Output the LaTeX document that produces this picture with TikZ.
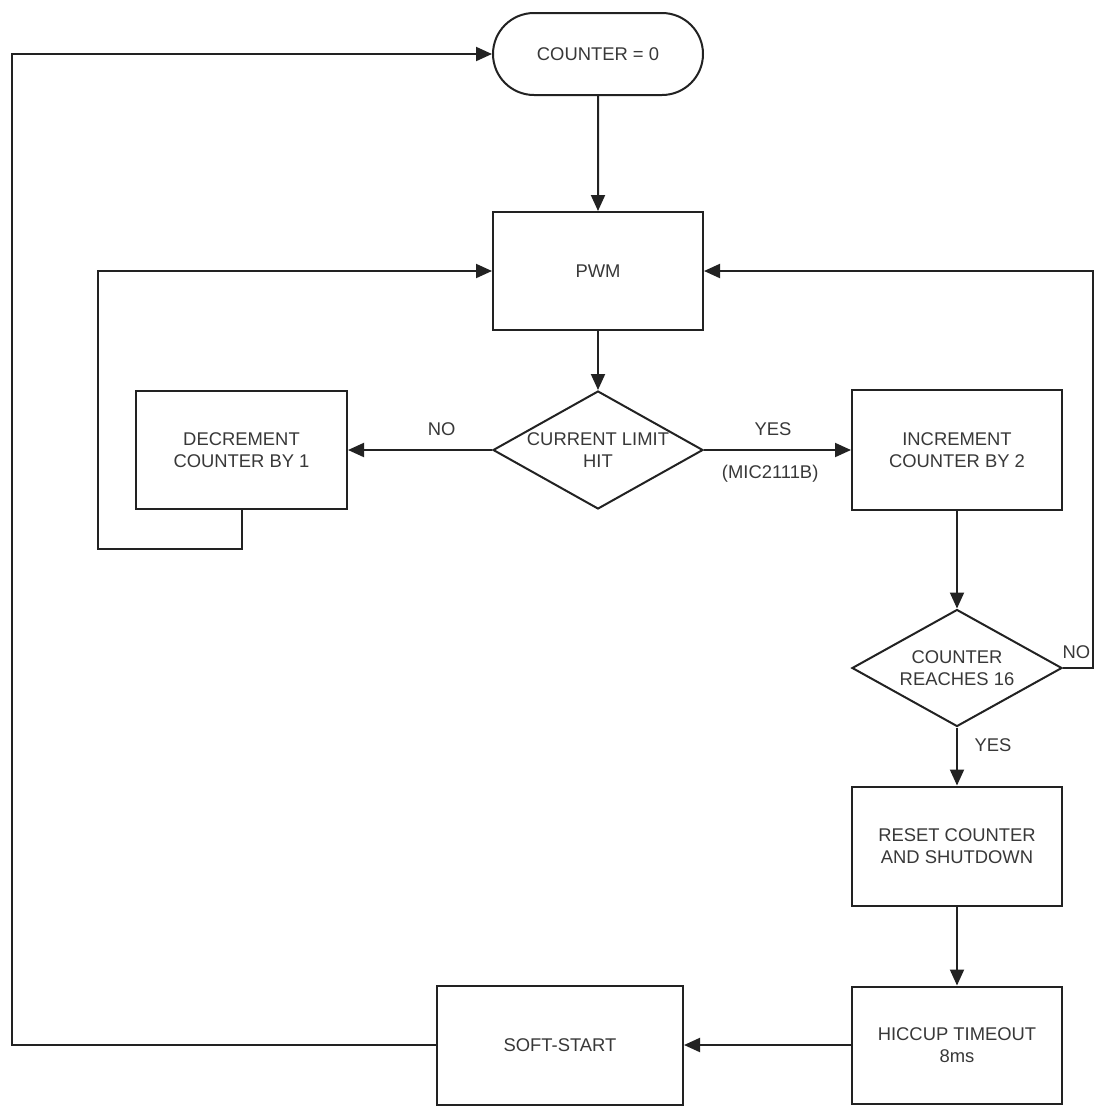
\documentclass[tikz,border=0pt]{standalone}
\usepackage{fontspec}
\setmainfont{Liberation Sans}
\usepackage{xcolor}
\usepackage{tikz}
\usetikzlibrary{arrows.meta, positioning, shapes.geometric, shapes.misc}

\definecolor{linecol}{HTML}{222222}
\definecolor{textcol}{HTML}{383838}

\begin{document}
\begin{tikzpicture}[
    x=0.5pt, y=-0.5pt,
    every node/.style={font=\fontsize{9.2}{11.3}\selectfont, text=textcol},
    stepbox/.style={draw=linecol, line width=1pt, fill=white, align=center, inner sep=0pt},
    startbox/.style={draw=linecol, line width=1pt, rounded rectangle, fill=white, minimum width=105pt, minimum height=41pt, inner sep=0pt},
    decision/.style={draw=linecol, line width=1pt, diamond, aspect=1.77, fill=white, align=center, inner sep=-1pt, minimum width=105pt, minimum height=59pt},
    arrow/.style={-{Triangle[length=8pt, width=7pt]}, line width=1pt, draw=linecol},
]
\useasboundingbox (0,0) rectangle (1096,1109);

% Main column
\node[startbox] (start) at (598,54) {COUNTER = 0};
\node[stepbox, minimum width=105pt, minimum height=59pt] (pwm) at (598,271) {PWM};
\node[decision] (limit) at (598,450) {CURRENT LIMIT\\HIT};

% Side boxes
\node[stepbox, minimum width=105.5pt, minimum height=59pt] (decr) at (241.5,450) {DECREMENT\\COUNTER BY 1};
\node[stepbox, minimum width=105pt, minimum height=60pt] (incr) at (957,450) {INCREMENT\\COUNTER BY 2};

% Right column
\node[decision, minimum height=58.5pt] (reach) at (957,668) {COUNTER\\REACHES 16};
\node[stepbox, minimum width=105pt, minimum height=59.5pt] (reset) at (957,846) {RESET COUNTER\\AND SHUTDOWN};
\node[stepbox, minimum width=105pt, minimum height=58.5pt] (hiccup) at (957,1045) {HICCUP TIMEOUT\\8ms};
\node[stepbox, minimum width=123pt, minimum height=59.5pt] (soft) at (560,1045) {SOFT-START};

% Loop corners
\coordinate (lpt) at (98,549);
\coordinate (rpt) at (1093,668);
\coordinate (bpt) at (12,1045);

% Straight connectors
\draw[arrow] (start) -- (pwm);
\draw[arrow] (pwm) -- (limit);
\draw[arrow] (limit) -- node[pos=0.35, above=3.5pt] {NO} (decr);
\draw[arrow] (limit) -- node[pos=0.47, above=3.5pt] {YES} node[pos=0.45, below=3.5pt] {(MIC2111B)} (incr);
\draw[arrow] (incr) -- (reach);
\draw[arrow] (reach) -- node[pos=0.3, right=5pt] {YES} (reset);
\draw[arrow] (reset) -- (hiccup);
\draw[arrow] (hiccup) -- (soft);

% Feedback loops
\draw[arrow] (decr.south) |- (lpt) |- (pwm.west);
\draw[arrow] (reach.east) -- node[pos=0.45, above=1pt] {NO} (rpt) |- (pwm.east);
\draw[arrow] (soft.west) -- (bpt) |- (start.west);

\end{tikzpicture}
\end{document}
